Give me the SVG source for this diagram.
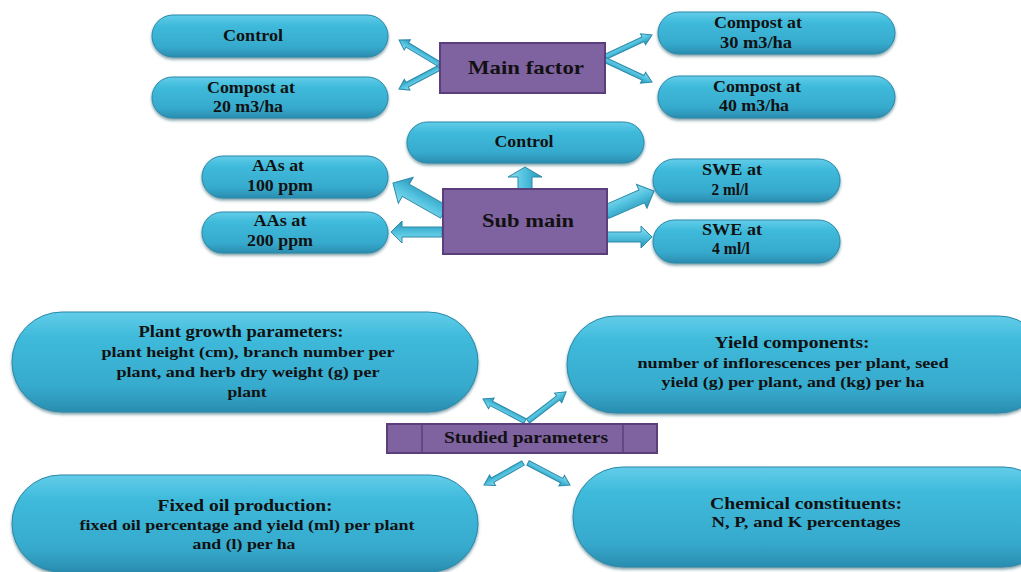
<svg xmlns="http://www.w3.org/2000/svg" width="1021" height="572" viewBox="0 0 1021 572">
<defs>
<linearGradient id="pillG" x1="0" y1="0" x2="0" y2="1">
<stop offset="0" stop-color="#62cde9"/>
<stop offset="0.25" stop-color="#3fbadb"/>
<stop offset="0.75" stop-color="#36aacd"/>
<stop offset="1" stop-color="#2a8db0"/>
</linearGradient>
<linearGradient id="arrG" x1="0" y1="0" x2="0" y2="1">
<stop offset="0" stop-color="#8fe0f2"/>
<stop offset="0.5" stop-color="#4fc0de"/>
<stop offset="1" stop-color="#2a93b5"/>
</linearGradient>
<filter id="sh" x="-10%" y="-20%" width="120%" height="150%">
<feDropShadow dx="0" dy="2" stdDeviation="1.5" flood-color="#15505f" flood-opacity="0.55"/>
</filter>
</defs>
<style>
.pill{fill:url(#pillG);stroke:#2b88a8;stroke-width:1;filter:url(#sh)}
.box{fill:#7f62a0;stroke:#5b3f7d;stroke-width:2}
.arr{fill:url(#arrG);stroke:#2a8aaa;stroke-width:1}
text{font-family:"Liberation Serif","Times New Roman",serif;font-weight:bold;fill:#111;text-anchor:middle}
.s{font-size:16px}
.m{font-size:19.5px}
.t{font-size:17px}
.b{font-size:15px}
</style>
<rect width="1021" height="572" fill="#ffffff"/>

<g id="connectors">
<path class="arr" transform="translate(439,64) rotate(-149)" d="M0,-2.5 L37,-2.5 L37,-6 L46.6,0 L37,6 L37,2.5 L0,2.5 Z"/>
<path class="arr" transform="translate(439,68) rotate(152.3)" d="M0,-2.5 L36,-2.5 L36,-6 L45.2,0 L36,6 L36,2.5 L0,2.5 Z"/>
<path class="arr" transform="translate(605,57) rotate(-25.1)" d="M0,-2.5 L42,-2.5 L42,-6 L51.9,0 L42,6 L42,2.5 L0,2.5 Z"/>
<path class="arr" transform="translate(605,60) rotate(25.1)" d="M0,-2.5 L42,-2.5 L42,-6 L51.9,0 L42,6 L42,2.5 L0,2.5 Z"/>

<path class="arr" transform="translate(525,189) rotate(-90)" d="M0,-7 L12,-7 L12,-17 L22,0 L12,17 L12,7 L0,7 Z"/>
<path class="arr" transform="translate(444,212) rotate(-150.4)" d="M0,-7 L44,-7 L44,-15 L58.7,0 L44,15 L44,7 L0,7 Z"/>
<path class="arr" transform="translate(442,232) rotate(180)" d="M0,-5 L40,-5 L40,-11 L51,0 L40,11 L40,5 L0,5 Z"/>
<path class="arr" transform="translate(606,212) rotate(-23.6)" d="M0,-7 L39,-7 L39,-13 L52.4,0 L39,13 L39,7 L0,7 Z"/>
<path class="arr" transform="translate(606,237) rotate(0)" d="M0,-5 L35,-5 L35,-11 L46,0 L35,11 L35,5 L0,5 Z"/>

<path class="arr" transform="translate(525,421) rotate(-152.4)" d="M0,-2.5 L38,-2.5 L38,-6 L47.4,0 L38,6 L38,2.5 L0,2.5 Z"/>
<path class="arr" transform="translate(528,421) rotate(-37.5)" d="M0,-2.5 L38,-2.5 L38,-6 L48,0 L38,6 L38,2.5 L0,2.5 Z"/>
<path class="arr" transform="translate(523,463) rotate(150.6)" d="M0,-2.5 L35,-2.5 L35,-6 L44.8,0 L35,6 L35,2.5 L0,2.5 Z"/>
<path class="arr" transform="translate(528,463) rotate(27.6)" d="M0,-2.5 L38,-2.5 L38,-6 L47.4,0 L38,6 L38,2.5 L0,2.5 Z"/>
</g>

<g id="main-factor">
<rect class="box" x="440" y="43" width="165" height="50"/>
<text class="m" x="526" y="74" textLength="116" lengthAdjust="spacingAndGlyphs">Main factor</text>
</g>
<g id="control-main">
<rect class="pill" x="152" y="15" width="236" height="42" rx="21"/>
<text class="s" x="253" y="41" textLength="60" lengthAdjust="spacingAndGlyphs">Control</text>
</g>
<g id="compost-20">
<rect class="pill" x="152" y="77" width="236" height="41" rx="20.5"/>
<text class="s" x="251" y="93" textLength="88" lengthAdjust="spacingAndGlyphs">Compost at</text>
<text class="s" x="248" y="112" textLength="70" lengthAdjust="spacingAndGlyphs">20 m3/ha</text>
</g>
<g id="compost-30">
<rect class="pill" x="658" y="12" width="237" height="42" rx="21"/>
<text class="s" x="758" y="28" textLength="88" lengthAdjust="spacingAndGlyphs">Compost at</text>
<text class="s" x="756" y="48" textLength="72" lengthAdjust="spacingAndGlyphs">30 m3/ha</text>
</g>
<g id="compost-40">
<rect class="pill" x="658" y="76" width="237" height="42" rx="21"/>
<text class="s" x="757" y="92" textLength="88" lengthAdjust="spacingAndGlyphs">Compost at</text>
<text class="s" x="754" y="111" textLength="70" lengthAdjust="spacingAndGlyphs">40 m3/ha</text>
</g>

<g id="sub-main">
<rect class="box" x="443" y="189" width="164" height="65"/>
<text class="m" x="528" y="227" textLength="92" lengthAdjust="spacingAndGlyphs">Sub main</text>
</g>
<g id="control-sub">
<rect class="pill" x="407" y="122" width="237" height="41" rx="20.5"/>
<text class="s" x="524" y="147" textLength="59" lengthAdjust="spacingAndGlyphs">Control</text>
</g>
<g id="aas-100">
<rect class="pill" x="202" y="156" width="186" height="42" rx="21"/>
<text class="s" x="278" y="171" textLength="52" lengthAdjust="spacingAndGlyphs">AAs at</text>
<text class="s" x="280" y="191" textLength="66" lengthAdjust="spacingAndGlyphs">100 ppm</text>
</g>
<g id="aas-200">
<rect class="pill" x="202" y="212" width="186" height="41" rx="20.5"/>
<text class="s" x="280" y="226" textLength="53" lengthAdjust="spacingAndGlyphs">AAs at</text>
<text class="s" x="280" y="246" textLength="66" lengthAdjust="spacingAndGlyphs">200 ppm</text>
</g>
<g id="swe-2">
<rect class="pill" x="653" y="159" width="187" height="43" rx="21.5"/>
<text class="s" x="732" y="175" textLength="60" lengthAdjust="spacingAndGlyphs">SWE at</text>
<text class="s" x="730" y="195" textLength="37" lengthAdjust="spacingAndGlyphs">2 ml/l</text>
</g>
<g id="swe-4">
<rect class="pill" x="653" y="220" width="187" height="43" rx="21.5"/>
<text class="s" x="732" y="235" textLength="60" lengthAdjust="spacingAndGlyphs">SWE at</text>
<text class="s" x="731" y="254" textLength="38" lengthAdjust="spacingAndGlyphs">4 ml/l</text>
</g>

<g id="studied-parameters">
<rect class="box" x="387" y="424" width="270" height="29"/>
<line x1="422" y1="425" x2="422" y2="452" stroke="#5b3f7d" stroke-width="1.5"/>
<line x1="623" y1="425" x2="623" y2="452" stroke="#5b3f7d" stroke-width="1.5"/>
<text class="t" x="526" y="443" textLength="164" lengthAdjust="spacingAndGlyphs">Studied parameters</text>
</g>
<g id="plant-growth">
<rect class="pill" x="12" y="312" width="466" height="100" rx="50"/>
<text class="t" x="241" y="337" textLength="205" lengthAdjust="spacingAndGlyphs">Plant growth parameters:</text>
<text class="b" x="248" y="357" textLength="293" lengthAdjust="spacingAndGlyphs">plant height (cm), branch number per</text>
<text class="b" x="248" y="377" textLength="263" lengthAdjust="spacingAndGlyphs">plant, and herb dry weight (g) per</text>
<text class="b" x="247" y="397" textLength="39" lengthAdjust="spacingAndGlyphs">plant</text>
</g>
<g id="yield-components">
<rect class="pill" x="567" y="316" width="480" height="97" rx="48.5"/>
<text class="t" x="792" y="348" textLength="155" lengthAdjust="spacingAndGlyphs">Yield components:</text>
<text class="b" x="793" y="368" textLength="311" lengthAdjust="spacingAndGlyphs">number of inflorescences per plant, seed</text>
<text class="b" x="793" y="387" textLength="263" lengthAdjust="spacingAndGlyphs">yield  (g) per plant, and (kg) per ha</text>
</g>
<g id="fixed-oil">
<rect class="pill" x="12" y="475" width="466" height="97" rx="48.5"/>
<text class="t" x="245" y="511" textLength="175" lengthAdjust="spacingAndGlyphs">Fixed oil production:</text>
<text class="b" x="247" y="530" textLength="335" lengthAdjust="spacingAndGlyphs">fixed oil percentage and yield  (ml) per plant</text>
<text class="b" x="244" y="549" textLength="103" lengthAdjust="spacingAndGlyphs">and (l) per ha</text>
</g>
<g id="chemical-constituents">
<rect class="pill" x="573" y="467" width="480" height="100" rx="50"/>
<text class="t" x="806" y="509" textLength="192" lengthAdjust="spacingAndGlyphs">Chemical constituents:</text>
<text class="b" x="806" y="527" textLength="189" lengthAdjust="spacingAndGlyphs">N, P, and K percentages</text>
</g>
</svg>
